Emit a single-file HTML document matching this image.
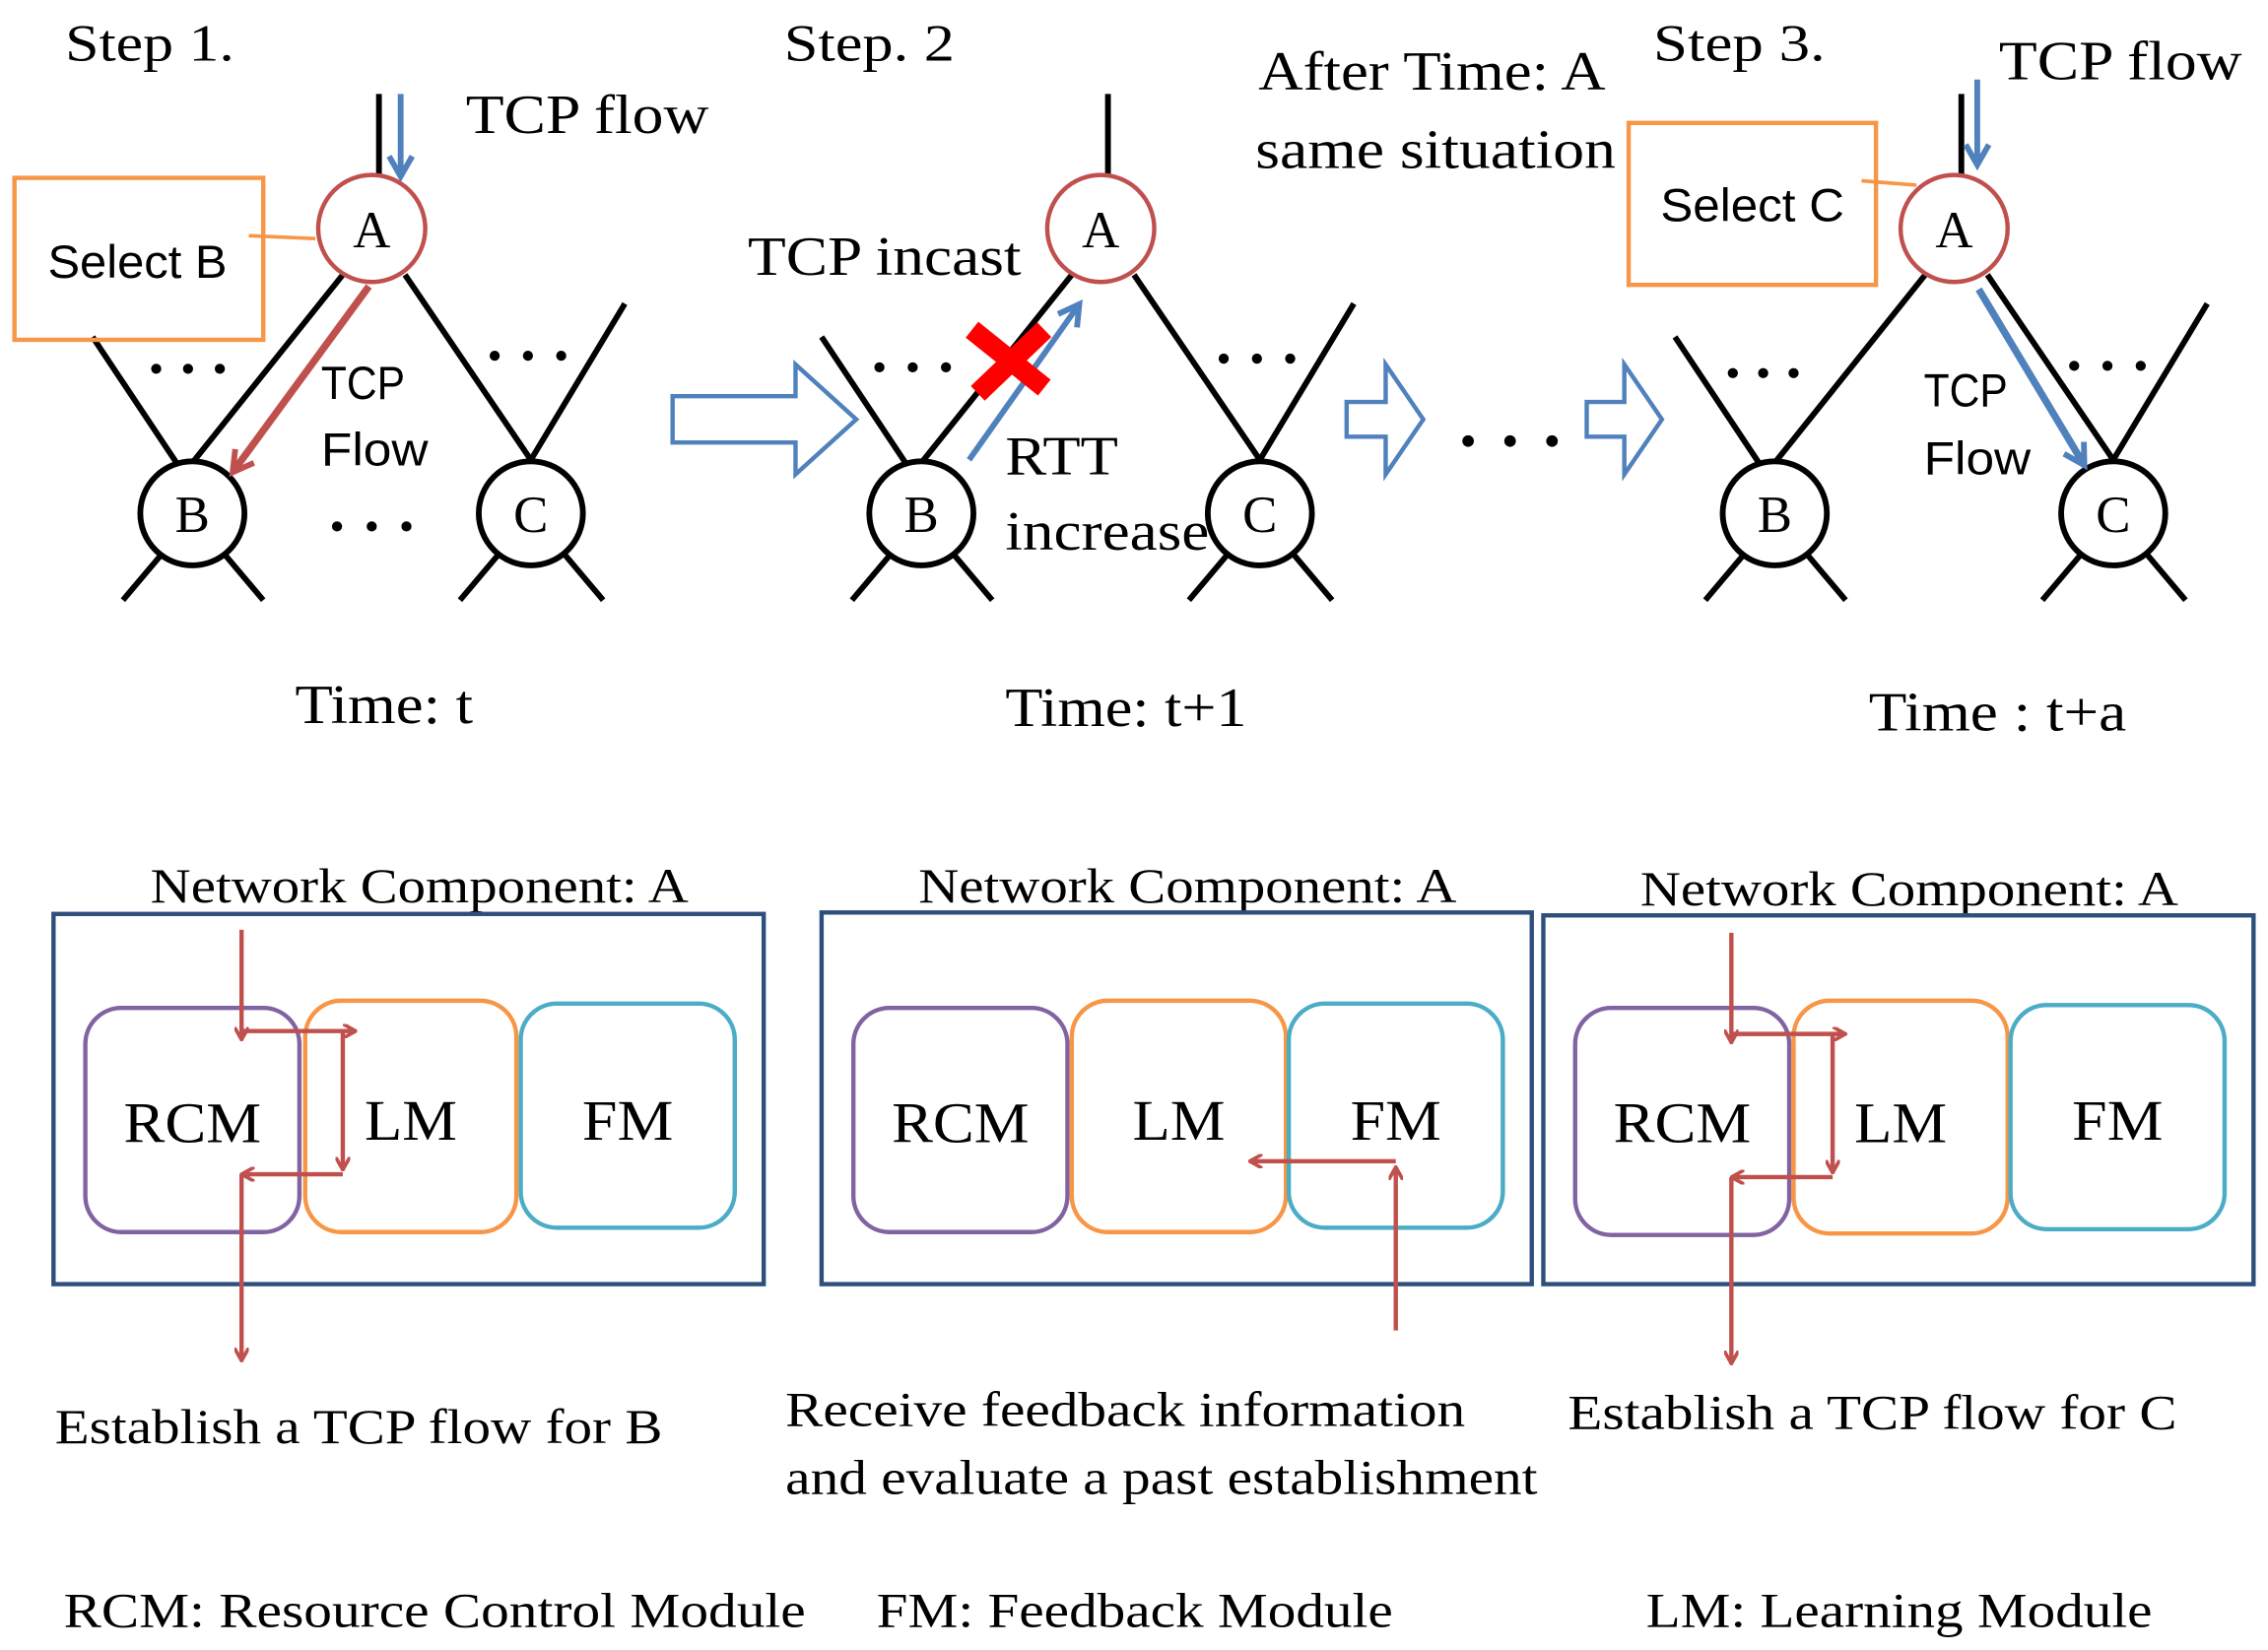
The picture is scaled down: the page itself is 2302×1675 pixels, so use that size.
<!DOCTYPE html>
<html><head><meta charset="utf-8"><style>html,body{margin:0;padding:0;background:#fff}svg{display:block}</style></head>
<body>
<svg width="2302" height="1675" viewBox="0 0 1568 1141" preserveAspectRatio="none" xmlns="http://www.w3.org/2000/svg">
<defs>
<marker id="r" markerWidth="10" markerHeight="10" refX="8" refY="5" orient="auto" markerUnits="userSpaceOnUse"><path d="M0,0 L9,5 L0,10" fill="none" stroke="#c0504d" stroke-width="2.5"/></marker>
<marker id="rb" markerWidth="20" markerHeight="20" refX="14" refY="10" orient="auto" markerUnits="userSpaceOnUse"><path d="M2,2 L16,10 L2,18" fill="none" stroke="#c0504d" stroke-width="4"/></marker>
<marker id="b" markerWidth="20" markerHeight="20" refX="14" refY="10" orient="auto" markerUnits="userSpaceOnUse"><path d="M2,2 L16,10 L2,18" fill="none" stroke="#4f81bd" stroke-width="4"/></marker>
</defs>
<g font-family="Liberation Serif, serif" fill="#000" lengthAdjust="spacingAndGlyphs">
<text x="45" y="42" font-size="36" textLength="117" lengthAdjust="spacingAndGlyphs">Step 1.</text>
<text x="322" y="92" font-size="38" textLength="168" lengthAdjust="spacingAndGlyphs">TCP flow</text>
<text x="542" y="42" font-size="36" textLength="118" lengthAdjust="spacingAndGlyphs">Step. 2</text>
<text x="517" y="190" font-size="38" textLength="189" lengthAdjust="spacingAndGlyphs">TCP incast</text>
<text x="695" y="328" font-size="38" textLength="78" lengthAdjust="spacingAndGlyphs">RTT</text>
<text x="695" y="380" font-size="38" textLength="141" lengthAdjust="spacingAndGlyphs">increase</text>
<text x="870" y="62" font-size="38" textLength="240" lengthAdjust="spacingAndGlyphs">After Time: A</text>
<text x="868" y="116" font-size="38" textLength="249" lengthAdjust="spacingAndGlyphs">same situation</text>
<text x="1143" y="42" font-size="36" textLength="119" lengthAdjust="spacingAndGlyphs">Step 3.</text>
<text x="1382" y="55" font-size="38" textLength="168" lengthAdjust="spacingAndGlyphs">TCP flow</text>
<text x="204" y="500" font-size="38" textLength="123" lengthAdjust="spacingAndGlyphs">Time: t</text>
<text x="695" y="502" font-size="38" textLength="167" lengthAdjust="spacingAndGlyphs">Time: t+1</text>
<text x="1292" y="505" font-size="38" textLength="178" lengthAdjust="spacingAndGlyphs">Time : t+a</text>
<text x="104" y="624" font-size="34" textLength="372" lengthAdjust="spacingAndGlyphs">Network Component: A</text>
<text x="635" y="624" font-size="34" textLength="372" lengthAdjust="spacingAndGlyphs">Network Component: A</text>
<text x="1134" y="626" font-size="34" textLength="372" lengthAdjust="spacingAndGlyphs">Network Component: A</text>
<text x="38" y="998" font-size="34" textLength="420" lengthAdjust="spacingAndGlyphs">Establish a TCP flow for B</text>
<text x="543" y="986" font-size="34" textLength="470" lengthAdjust="spacingAndGlyphs">Receive feedback information</text>
<text x="543" y="1033" font-size="34" textLength="520" lengthAdjust="spacingAndGlyphs">and evaluate a past establishment</text>
<text x="1084" y="988" font-size="34" textLength="421" lengthAdjust="spacingAndGlyphs">Establish a TCP flow for C</text>
<text x="44" y="1125" font-size="34" textLength="513" lengthAdjust="spacingAndGlyphs">RCM: Resource Control Module</text>
<text x="606" y="1125" font-size="34" textLength="357" lengthAdjust="spacingAndGlyphs">FM: Feedback Module</text>
<text x="1138" y="1125" font-size="34" textLength="350" lengthAdjust="spacingAndGlyphs">LM: Learning Module</text>
</g>
<g font-family="Liberation Sans, sans-serif" font-size="32">
<text x="33" y="192" textLength="124" lengthAdjust="spacingAndGlyphs">Select B</text>
<text x="222" y="276" textLength="58" lengthAdjust="spacingAndGlyphs">TCP</text><text x="222" y="322" textLength="74" lengthAdjust="spacingAndGlyphs">Flow</text>
<text x="1148" y="153" textLength="127" lengthAdjust="spacingAndGlyphs">Select C</text>
<text x="1330" y="281" textLength="58" lengthAdjust="spacingAndGlyphs">TCP</text><text x="1330" y="328" textLength="74" lengthAdjust="spacingAndGlyphs">Flow</text>
</g>

<g id="t1">
<g stroke="#000" stroke-width="4" fill="none">
<line x1="262" y1="65" x2="262" y2="121"/>
<line x1="237" y1="190" x2="133" y2="320"/>
<line x1="280" y1="190" x2="367" y2="318"/>
<line x1="64" y1="233" x2="122" y2="320"/>
<line x1="432" y1="210" x2="367" y2="318"/>
<line x1="112" y1="383" x2="85" y2="415"/><line x1="155" y1="383" x2="182" y2="415"/>
<line x1="345" y1="383" x2="318" y2="415"/><line x1="390" y1="383" x2="417" y2="415"/>
<circle cx="133" cy="355" r="36" fill="#fff"/><circle cx="367" cy="355" r="36" fill="#fff"/>
</g>
<circle cx="257" cy="158" r="37" fill="#fff" stroke="#c0504d" stroke-width="3"/>
<g font-family="Liberation Serif, serif" font-size="36" text-anchor="middle">
<text x="257" y="171">A</text><text x="133" y="368">B</text><text x="367" y="368">C</text></g>
</g>
<use href="#t1" x="504"/>
<use href="#t1" x="1094"/>
<g fill="#000">
<circle cx="108" cy="255" r="3.5"/><circle cx="130" cy="255" r="3.5"/><circle cx="152" cy="255" r="3.5"/>
<circle cx="342" cy="246" r="3.5"/><circle cx="365" cy="246" r="3.5"/><circle cx="388" cy="246" r="3.5"/>
<circle cx="233" cy="364" r="3.5"/><circle cx="257" cy="364" r="3.5"/><circle cx="281" cy="364" r="3.5"/>
<circle cx="608" cy="254" r="3.5"/><circle cx="631" cy="254" r="3.5"/><circle cx="654" cy="254" r="3.5"/>
<circle cx="846" cy="248" r="3.5"/><circle cx="869" cy="248" r="3.5"/><circle cx="892" cy="248" r="3.5"/>
<circle cx="1198" cy="258" r="3.5"/><circle cx="1219" cy="258" r="3.5"/><circle cx="1240" cy="258" r="3.5"/>
<circle cx="1434" cy="253" r="3.5"/><circle cx="1457" cy="253" r="3.5"/><circle cx="1480" cy="253" r="3.5"/>
<circle cx="1015" cy="305" r="4"/><circle cx="1044" cy="305" r="4"/><circle cx="1073" cy="305" r="4"/>
</g>

<line x1="277" y1="65" x2="277" y2="120" stroke="#4f81bd" stroke-width="4" marker-end="url(#b)"/>
<rect x="10" y="123" width="172" height="112" fill="none" stroke="#f79646" stroke-width="3"/>
<line x1="172" y1="163" x2="218" y2="165" stroke="#f79646" stroke-width="2.5"/>
<line x1="255" y1="198" x2="162" y2="325" stroke="#c0504d" stroke-width="5" marker-end="url(#rb)"/>
<line x1="670" y1="318" x2="745" y2="212" stroke="#4f81bd" stroke-width="4" marker-end="url(#b)"/>
<g stroke="#ff0000" stroke-width="14"><line x1="672" y1="228" x2="722" y2="268"/><line x1="722" y1="228" x2="676" y2="272"/></g>
<g fill="none" stroke="#4f81bd" stroke-width="3">
<path d="M465,274 H550 V252 L592,290 L550,328 V306 H465 Z"/>
<path d="M931,278 H958 V252 L984,290 L958,328 V302 H931 Z"/>
<path d="M1097,278 H1123 V252 L1149,290 L1123,328 V302 H1097 Z"/>
</g>
<line x1="1367" y1="55" x2="1367" y2="112" stroke="#4f81bd" stroke-width="4" marker-end="url(#b)"/>
<rect x="1126" y="85" width="171" height="112" fill="none" stroke="#f79646" stroke-width="3"/>
<line x1="1287" y1="125" x2="1325" y2="128" stroke="#f79646" stroke-width="2.5"/>
<line x1="1368" y1="200" x2="1440" y2="320" stroke="#4f81bd" stroke-width="5" marker-end="url(#b)"/>

<g fill="none" stroke="#2e4f7c" stroke-width="3">
<rect x="37" y="632" width="491" height="256"/>
<rect x="568" y="631" width="491" height="257"/>
<rect x="1067" y="633" width="491" height="255"/>
</g>
<g fill="none" stroke-width="3">
<rect x="59" y="697" width="148" height="155" rx="25" stroke="#8064a2"/>
<rect x="211" y="692" width="146" height="160" rx="25" stroke="#f79646"/>
<rect x="360" y="694" width="148" height="155" rx="25" stroke="#4bacc6"/>
<rect x="590" y="697" width="148" height="155" rx="25" stroke="#8064a2"/>
<rect x="741" y="692" width="148" height="160" rx="25" stroke="#f79646"/>
<rect x="891" y="694" width="148" height="155" rx="25" stroke="#4bacc6"/>
<rect x="1089" y="697" width="148" height="157" rx="25" stroke="#8064a2"/>
<rect x="1240" y="692" width="148" height="161" rx="25" stroke="#f79646"/>
<rect x="1390" y="695" width="148" height="155" rx="25" stroke="#4bacc6"/>
</g>
<g font-family="Liberation Serif, serif" font-size="40" text-anchor="middle">
<text x="133" y="790" textLength="95" lengthAdjust="spacingAndGlyphs">RCM</text><text x="284" y="788" textLength="64" lengthAdjust="spacingAndGlyphs">LM</text><text x="434" y="788" textLength="63" lengthAdjust="spacingAndGlyphs">FM</text>
<text x="664" y="790" textLength="95" lengthAdjust="spacingAndGlyphs">RCM</text><text x="815" y="788" textLength="64" lengthAdjust="spacingAndGlyphs">LM</text><text x="965" y="788" textLength="63" lengthAdjust="spacingAndGlyphs">FM</text>
<text x="1163" y="790" textLength="95" lengthAdjust="spacingAndGlyphs">RCM</text><text x="1314" y="790" textLength="64" lengthAdjust="spacingAndGlyphs">LM</text><text x="1464" y="788" textLength="63" lengthAdjust="spacingAndGlyphs">FM</text>
</g>
<g id="ar" stroke="#c0504d" stroke-width="3" fill="none">
<line x1="167" y1="643" x2="167" y2="718" marker-end="url(#r)"/>
<line x1="167" y1="713" x2="245" y2="713" marker-end="url(#r)"/>
<line x1="237" y1="713" x2="237" y2="808" marker-end="url(#r)"/>
<line x1="237" y1="812" x2="168" y2="812" marker-end="url(#r)"/>
<line x1="167" y1="812" x2="167" y2="940" marker-end="url(#r)"/>
</g>
<use href="#ar" x="1030" y="2"/>
<g stroke="#c0504d" stroke-width="3" fill="none">
<line x1="965" y1="920" x2="965" y2="808" marker-end="url(#r)"/>
<line x1="965" y1="803" x2="865" y2="803" marker-end="url(#r)"/>
</g>
</svg>
</body></html>
